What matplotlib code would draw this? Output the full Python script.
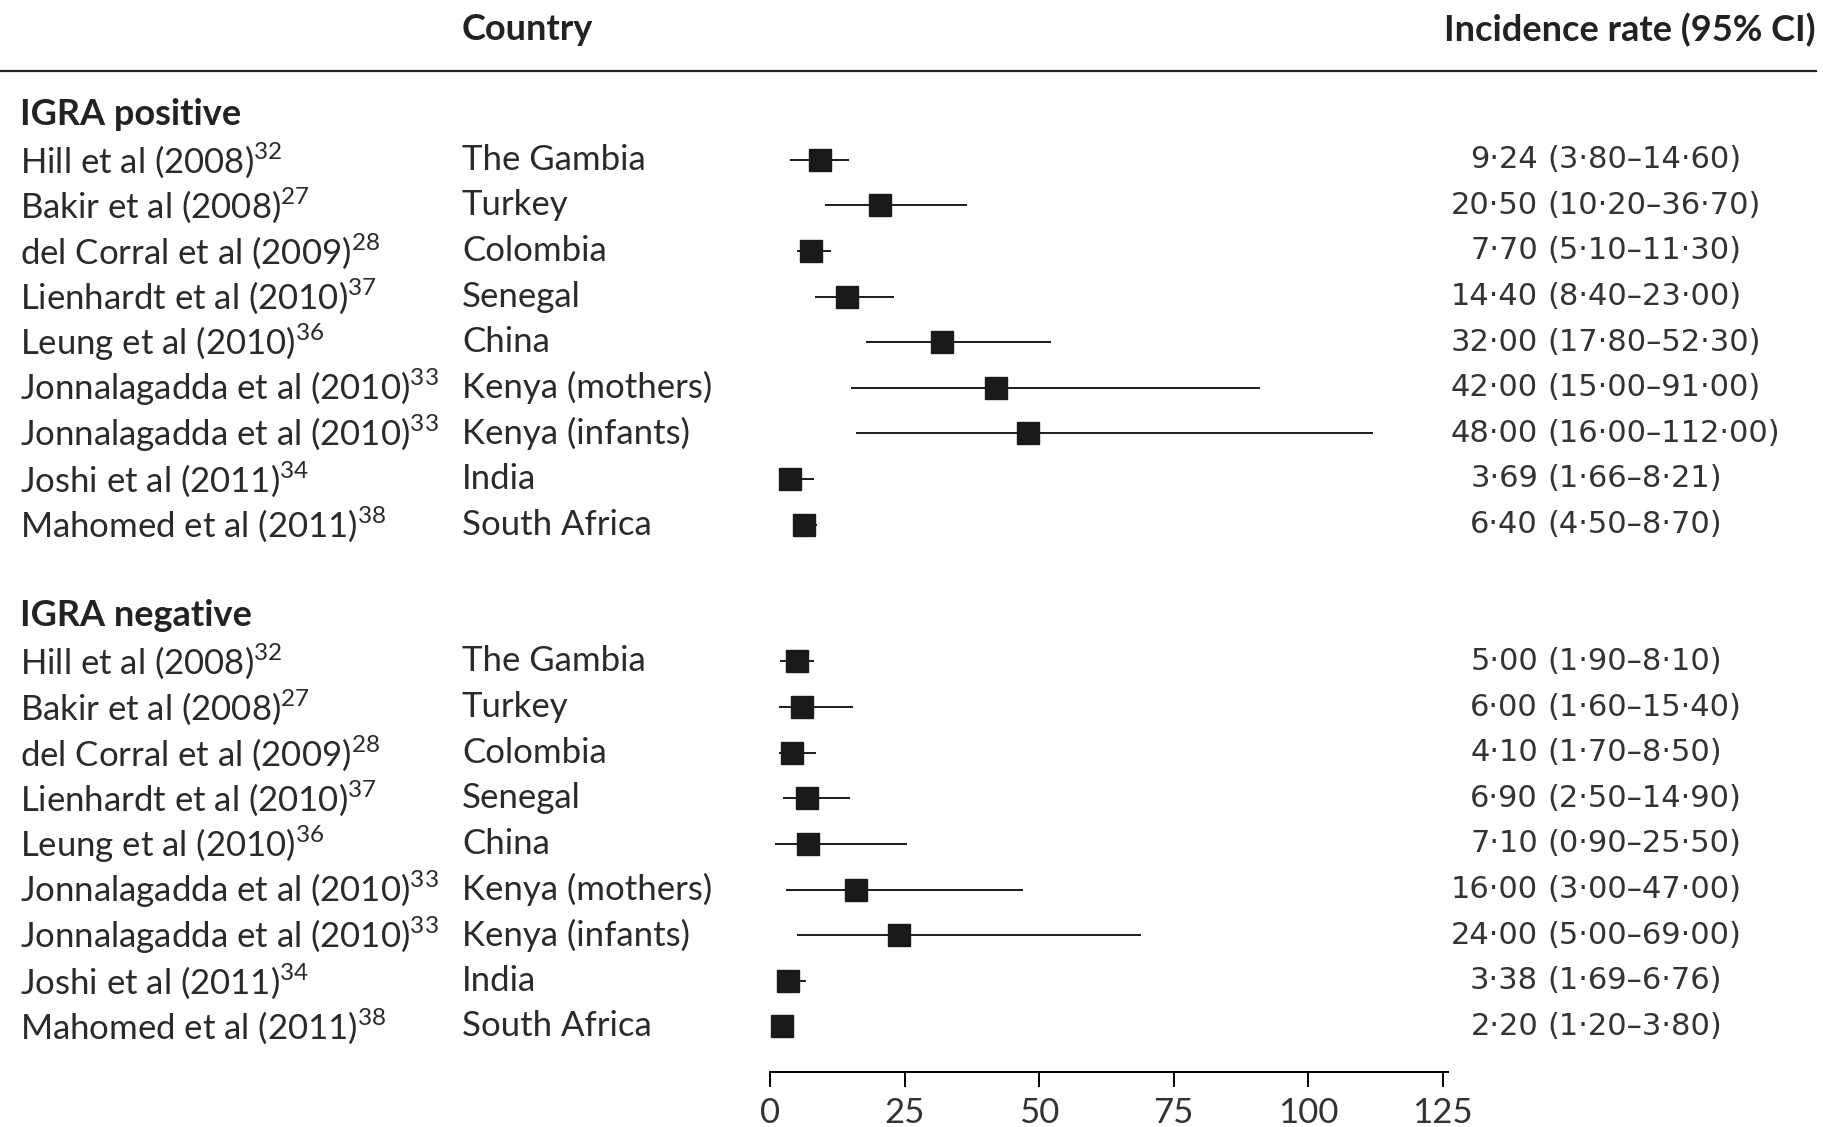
import matplotlib
matplotlib.use("Agg")
import matplotlib.pyplot as plt
from matplotlib.transforms import blended_transform_factory

plt.rcParams['mathtext.fontset'] = 'custom'
plt.rcParams['mathtext.rm'] = 'Lato'

# Study rows (same order in both groups)
studies = ['Hill et al (2008)', 'Bakir et al (2008)', 'del Corral et al (2009)',
           'Lienhardt et al (2010)', 'Leung et al (2010)', 'Jonnalagadda et al (2010)',
           'Jonnalagadda et al (2010)', 'Joshi et al (2011)', 'Mahomed et al (2011)']
refs = ['32', '27', '28', '37', '36', '33', '33', '34', '38']
countries = ['The Gambia', 'Turkey', 'Colombia', 'Senegal', 'China',
             'Kenya (mothers)', 'Kenya (infants)', 'India', 'South Africa']

# IGRA positive
pos_est = [9.24, 20.50, 7.70, 14.40, 32.00, 42.00, 48.00, 3.69, 6.40]
pos_lo = [3.80, 10.20, 5.10, 8.40, 17.80, 15.00, 16.00, 1.66, 4.50]
pos_hi = [14.60, 36.70, 11.30, 23.00, 52.30, 91.00, 112.00, 8.21, 8.70]

# IGRA negative
neg_est = [5.00, 6.00, 4.10, 6.90, 7.10, 16.00, 24.00, 3.38, 2.20]
neg_lo = [1.90, 1.60, 1.70, 2.50, 0.90, 3.00, 5.00, 1.69, 1.20]
neg_hi = [8.10, 15.40, 8.50, 14.90, 25.50, 47.00, 69.00, 6.76, 3.80]

groups = [('IGRA positive', pos_est, pos_lo, pos_hi),
          ('IGRA negative', neg_est, neg_lo, neg_hi)]
xticks = [0, 25, 50, 75, 100, 125]

label_font = 'Lato'
num_font = 'DejaVu Sans'
txt_col = '#222222'


def fmt(v):
    return f"{v:.2f}".replace('.', '\u00b7')


fig = plt.figure(figsize=(18.23, 11.27), dpi=100)
ax = fig.add_axes([0, 0.0488, 1, 0.9512])
ax.set_xlim(-143.0, 195.6)
ax.set_ylim(21, -2.5)

tr = blended_transform_factory(fig.transFigure, ax.transData)

row = 0
for title, est, lo, hi in groups:
    ax.text(0.011, row, title, transform=tr, fontsize=26, fontweight='bold',
            family=label_font, color=txt_col, va='center')
    row += 1
    for i in range(len(studies)):
        ax.hlines(row, lo[i], hi[i], color='#1a1a1a', lw=1.4)
        ax.plot(est[i], row, marker='s', ms=16, color='#1a1a1a', mec='#1a1a1a')
        ax.text(0.011, row, studies[i] + r'$^{' + refs[i] + '}$', transform=tr,
                fontsize=25, family=label_font, color='#2a2a2a', va='center')
        ax.text(0.2534, row, countries[i], transform=tr, fontsize=25,
                family=label_font, color='#2a2a2a', va='center')
        ax.text(0.8437, row, fmt(est[i]), transform=tr, fontsize=22,
                family=num_font, color='#333333', va='center', ha='right')
        ax.text(0.849, row, '(' + fmt(lo[i]) + '\u2013' + fmt(hi[i]) + ')',
                transform=tr, fontsize=22, family=num_font, color='#333333',
                va='center', ha='left')
        row += 1
    row += 1

# header
ax.text(0.2534, -1.85, 'Country', transform=tr, fontsize=26, fontweight='bold',
        family=label_font, color=txt_col, va='center')
ax.text(0.996, -1.85, 'Incidence rate (95% CI)', transform=tr, fontsize=26,
        fontweight='bold', family=label_font, color=txt_col, va='center', ha='right')
ax.plot([0, 0.996], [-0.95, -0.95], transform=tr, color='#222222', lw=1.6, clip_on=False)

for s in ['top', 'right', 'left']:
    ax.spines[s].set_visible(False)
ax.spines['bottom'].set_bounds(0, 126)
ax.spines['bottom'].set_linewidth(1.4)
ax.set_yticks([])
ax.set_xticks(xticks)
ax.tick_params(axis='x', direction='out', length=11, width=1.4, pad=7,
               labelsize=25, labelcolor='#333333')
for lbl in ax.get_xticklabels():
    lbl.set_family(label_font)

fig.savefig('out.png', dpi=100)
